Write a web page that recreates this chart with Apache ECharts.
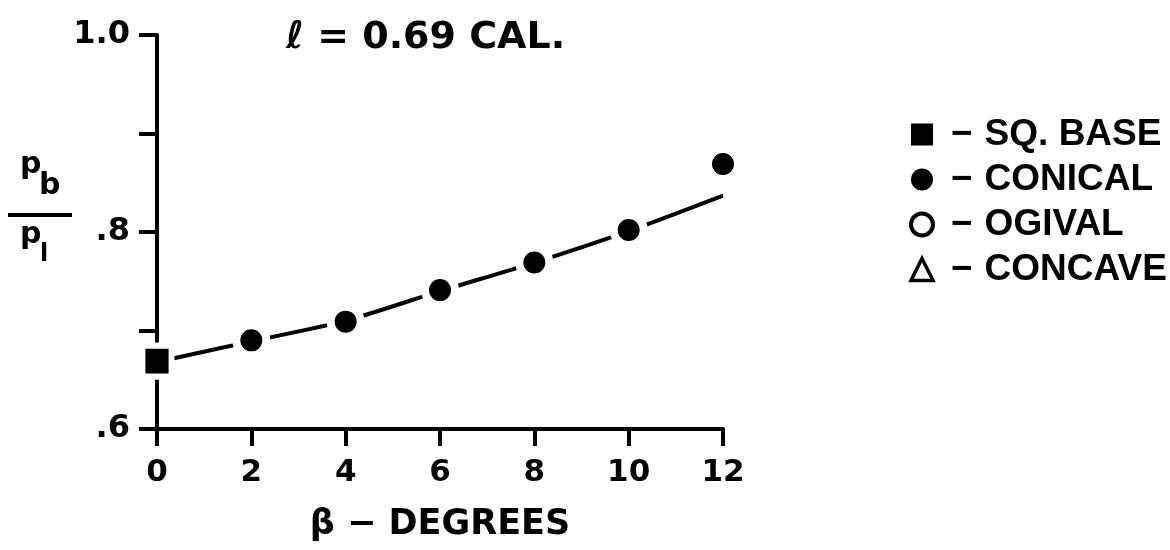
<!DOCTYPE html>
<html>
<head>
<meta charset="utf-8">
<script src="https://cdn.jsdelivr.net/npm/echarts@6/dist/echarts.min.js"></script>
<style>html,body{margin:0;padding:0;background:#fff}#c{width:1170px;height:550px}</style>
</head>
<body>
<div id="c"></div>
<script>
// ---- data ----
var xTicks = [0, 2, 4, 6, 8, 10, 12];
var yTickLabels = { '0.6': '.6', '0.8': '.8', '1': '1.0' };
var sqBaseX = [0];
var sqBaseY = [0.669];
var conicalX = [2, 4, 6, 8, 10, 12];
var conicalY = [0.690, 0.709, 0.741, 0.769, 0.802, 0.869];
var fitX = [0, 2, 4, 6, 8, 10, 12];
var fitY = [0.668, 0.689, 0.710, 0.740, 0.769, 0.801, 0.837];
var legendNames = ['SQ. BASE', 'CONICAL', 'OGIVAL', 'CONCAVE'];
var titleText = 'ℓ = 0.69 CAL.';
var xName = 'β − DEGREES';
var yNameTop = ['p', 'b'];
var yNameBottom = ['p', 'l'];

function pairs(xs, ys) { return xs.map(function (x, i) { return [x, ys[i]]; }); }

var FONT = 'DejaVu Sans';
var LFONT = 'Liberation Sans';
var txt = function (s, left, top, size) {
  return { type: 'text', left: left, top: top, style: { text: s, fontFamily: FONT, fontWeight: 'bold', fontSize: size, fill: '#000' } };
};
var chart = echarts.init(document.getElementById('c'), null, { renderer: 'canvas' });
chart.setOption({
  backgroundColor: '#fff',
  animation: false,
  title: {
    text: titleText, left: 281, top: 14,
    textStyle: { fontFamily: FONT, fontWeight: 'bold', fontSize: 38, color: '#000' }
  },
  grid: { left: 157, right: 447, top: 35, bottom: 121, containLabel: false },
  xAxis: {
    type: 'value', min: 0, max: 12, interval: 2,
    name: xName, nameLocation: 'middle', nameGap: 78,
    nameTextStyle: { fontFamily: FONT, fontWeight: 'bold', fontSize: 35, color: '#000' },
    axisLine: { show: true, onZero: false, lineStyle: { color: '#000', width: 4 } },
    axisTick: { show: true, inside: false, length: 17, lineStyle: { color: '#000', width: 4 } },
    axisLabel: { margin: 28, fontFamily: FONT, fontWeight: 'bold', fontSize: 31, color: '#000' },
    splitLine: { show: false }
  },
  yAxis: {
    type: 'value', min: 0.6, max: 1.0, interval: 0.1,
    axisLine: { show: true, onZero: false, lineStyle: { color: '#000', width: 4 } },
    axisTick: { show: true, inside: false, length: 18, lineStyle: { color: '#000', width: 4 } },
    axisLabel: {
      margin: 27, fontFamily: FONT, fontWeight: 'bold', fontSize: 32, color: '#000',
      formatter: function (v) { var k = String(Math.round(v * 10) / 10); return yTickLabels[k] || ''; }
    },
    splitLine: { show: false }
  },
  legend: {
    orient: 'vertical', left: 904, top: 111, itemGap: 8,
    itemWidth: 22, itemHeight: 22,
    formatter: function (n) { return '{d|−}{t|' + n + '}'; },
    textStyle: {
      fontFamily: LFONT, fontWeight: 'bold', fontSize: 37, color: '#000', lineHeight: 34,
      rich: {
        d: { fontFamily: LFONT, fontWeight: 'bold', fontSize: 37, color: '#000', lineHeight: 34, padding: [0, 12, 0, 13] },
        t: { fontFamily: LFONT, fontWeight: 'bold', fontSize: 37, color: '#000', lineHeight: 34 }
      }
    },
    data: [
      { name: legendNames[0], icon: 'rect', itemStyle: { color: '#000', borderWidth: 0, opacity: 1 } },
      { name: legendNames[1], icon: 'circle', itemStyle: { color: '#000', borderWidth: 0, opacity: 1 } },
      { name: legendNames[2], icon: 'circle', itemStyle: { color: '#fff', borderColor: '#000', borderWidth: 4, opacity: 1 } },
      { name: legendNames[3], icon: 'triangle', itemStyle: { color: '#fff', borderColor: '#000', borderWidth: 3.5, opacity: 1 } }
    ],
    selectedMode: false
  },
  graphic: [
    txt(yNameTop[0], 20, 150, 30),
    txt(yNameTop[1], 39, 171, 30),
    { type: 'rect', shape: { x: 8, y: 213, width: 64, height: 4 }, style: { fill: '#000' } },
    txt(yNameBottom[0], 20, 220, 30),
    txt(yNameBottom[1], 40, 243, 24)
  ],
  series: [
    {
      name: 'fit', type: 'line', data: pairs(fitX, fitY), smooth: 0.3,
      showSymbol: false, symbol: 'none', z: 2,
      lineStyle: { color: '#000', width: 4 }
    },
    {
      name: legendNames[0], type: 'scatter', data: pairs(sqBaseX, sqBaseY), z: 5,
      symbol: 'rect', symbolSize: [29, 31],
      itemStyle: { color: '#000', borderColor: '#fff', borderWidth: 6, opacity: 1 }
    },
    {
      name: legendNames[1], type: 'scatter', data: pairs(conicalX, conicalY), z: 5,
      symbol: 'circle', symbolSize: 30,
      itemStyle: { color: '#000', borderColor: '#fff', borderWidth: 8, opacity: 1 }
    },
    { name: legendNames[2], type: 'scatter', data: [], symbol: 'emptyCircle' },
    { name: legendNames[3], type: 'scatter', data: [], symbol: 'emptyTriangle' }
  ]
});
</script>
</body>
</html>
